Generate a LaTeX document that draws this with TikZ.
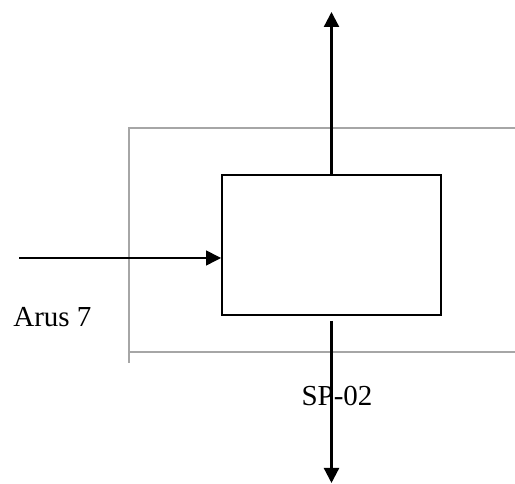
\documentclass[tikz,border=0pt]{standalone}
\usepackage{fontspec}
\setmainfont{Liberation Serif}
\usetikzlibrary{arrows.meta}
\begin{document}
\begin{tikzpicture}[font=\fontsize{16.5}{20}\selectfont,
  strom/.style={line width=1.3pt,-{Triangle[width=0.3cm,length=0.3cm]}},
  zulauf/.style={line width=0.8pt,-{Triangle[width=0.3cm,length=0.3cm]}},
  lbl/.style={inner sep=0pt}]
\useasboundingbox (0,0) rectangle (10.3,9.68);
% Grenze (grau)
\draw[gray!70,line width=0.8pt] (10.3,7.12) -- (2.58,7.12) -- (2.58,2.42);
\draw[gray!70,line width=0.8pt] (2.58,2.64) -- (10.3,2.64);
% Separator
\node[draw,line width=1.1pt,minimum width=4.38cm,minimum height=2.8cm,inner sep=0pt] (sp) at (6.63,4.78) {};
% Stroeme
\coordinate (top) at (6.63,9.44);
\coordinate (botA) at (6.63,3.26); \coordinate (botB) at (6.63,0.02);
\coordinate (feed) at (0.38,4.52);
\draw[strom] (sp.north) -- (top);
\draw[strom] (botA) -- (botB);
\draw[zulauf] (feed) -- (feed -| sp.west);
% Beschriftung
\node[lbl,anchor=base west] (arus) at (0.26,3.14) {Arus 7};
\node[lbl,anchor=base] (name) at (6.74,1.56) {SP-02};
\end{tikzpicture}
\end{document}
